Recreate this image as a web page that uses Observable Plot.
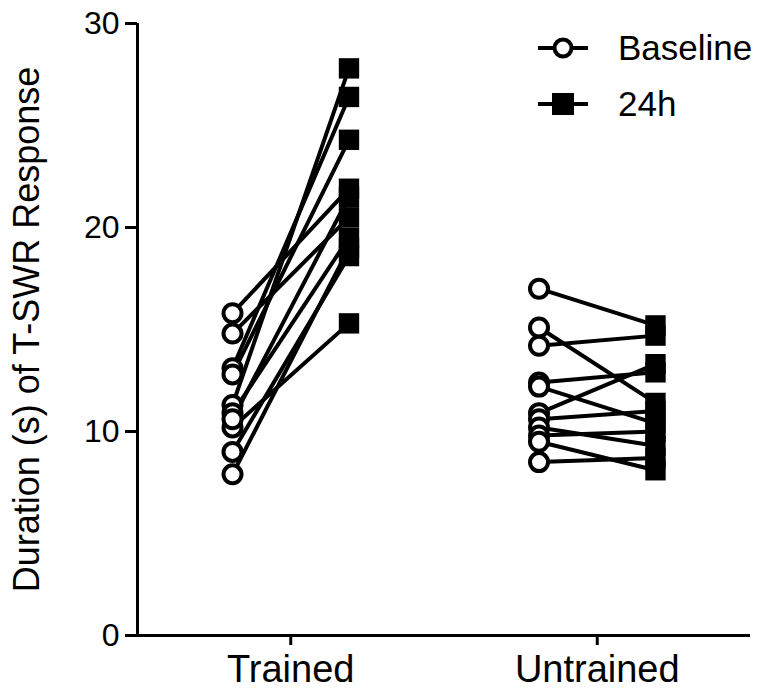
<!DOCTYPE html>
<html>
<head>
<meta charset="utf-8">
<script src="https://cdn.jsdelivr.net/npm/d3@7"></script>
<script src="https://cdn.jsdelivr.net/npm/@observablehq/plot@0.6"></script>
<style>
  html, body { margin: 0; padding: 0; background: #fff; }
  #chart { position: relative; width: 776px; height: 699px; font-family: "Liberation Sans", Arial, sans-serif; }
  .legend { position: absolute; left: 538px; top: 20px; font-size: 35px; color: #000; }
  .legend .row { display: flex; align-items: center; height: 56px; }
  .legend svg { margin-right: 30px; }
</style>
</head>
<body>
<div id="chart"></div>
<script>
// ---- data ----
const groups = ["Trained", "Untrained"];
const timepoints = ["Baseline", "24h"];
const yTicks = [0, 10, 20, 30];
const yLabel = "Duration (s) of T-SWR Response";

const trainedBaseline = [15.8, 14.8, 13.1, 12.8, 11.3, 10.9, 10.2, 10.6, 9.0, 7.9];
const trained24h      = [21.9, 20.5, 26.4, 24.3, 27.8, 19.5, 15.3, 21.5, 18.6, 19.0];

const untrainedBaseline = [17.0, 15.1, 14.2, 12.4, 12.2, 10.9, 10.6, 10.2, 9.8, 9.5, 8.5];
const untrained24h      = [15.2, 11.4, 14.7, 12.9, 10.4, 13.3, 11.0, 9.3, 10.0, 8.1, 8.7];

// ---- build table ----
const offset = 0.19;
const rows = [];
function addGroup(gi, base, day) {
  base.forEach((v, i) => {
    const id = groups[gi] + "-" + i;
    rows.push({id, group: groups[gi], time: timepoints[0], x: gi + 1 - offset, y: v});
    rows.push({id, group: groups[gi], time: timepoints[1], x: gi + 1 + offset, y: day[i]});
  });
}
addGroup(0, trainedBaseline, trained24h);
addGroup(1, untrainedBaseline, untrained24h);

const font = "Liberation Sans, Arial, sans-serif";

const plot = Plot.plot({
  width: 776,
  height: 699,
  marginLeft: 137,
  marginRight: 26,
  marginTop: 23,
  marginBottom: 64,
  style: {fontFamily: font, color: "#000", background: "#fff"},
  x: {domain: [0.5, 2.5], axis: null},
  y: {domain: [0, 30], axis: null},
  marks: [
    Plot.line(rows, {x: "x", y: "y", z: "id", stroke: "#000", strokeWidth: 4}),
    Plot.dot(rows.filter(d => d.time === "Baseline"), {x: "x", y: "y", r: 9, fill: "#fff", stroke: "#000", strokeWidth: 4}),
    Plot.dot(rows.filter(d => d.time === "24h"), {x: "x", y: "y", r: 11.5, symbol: "square", fill: "#000", stroke: "none"}),
    Plot.ruleX([0.5], {stroke: "#000", strokeWidth: 3}),
    Plot.ruleY([0], {stroke: "#000", strokeWidth: 3}),
    Plot.axisY({ticks: yTicks, tickSize: 12, tickPadding: 6, fontSize: 32, label: null, strokeWidth: 3}),
    Plot.axisX({ticks: [1, 2], tickFormat: d => groups[d - 1], tickSize: 10, tickPadding: 10, fontSize: 38, label: null, strokeWidth: 3}),
    Plot.text([yLabel], {text: d => d, frameAnchor: "left", rotate: -90, dx: -110, fontSize: 36, textAnchor: "middle"})
  ]
});

const chart = document.getElementById("chart");
chart.appendChild(plot);

// legend
const legend = document.createElement("div");
legend.className = "legend";
legend.innerHTML = `
  <div class="row"><svg width="50" height="26"><line x1="0" y1="13" x2="50" y2="13" stroke="#000" stroke-width="4"/><circle cx="25" cy="13" r="8.5" fill="#fff" stroke="#000" stroke-width="4"/></svg><span>${timepoints[0]}</span></div>
  <div class="row"><svg width="50" height="26"><line x1="0" y1="13" x2="50" y2="13" stroke="#000" stroke-width="4"/><rect x="14" y="2" width="22" height="22" fill="#000"/></svg><span>${timepoints[1]}</span></div>
`;
chart.appendChild(legend);
</script>
</body>
</html>
